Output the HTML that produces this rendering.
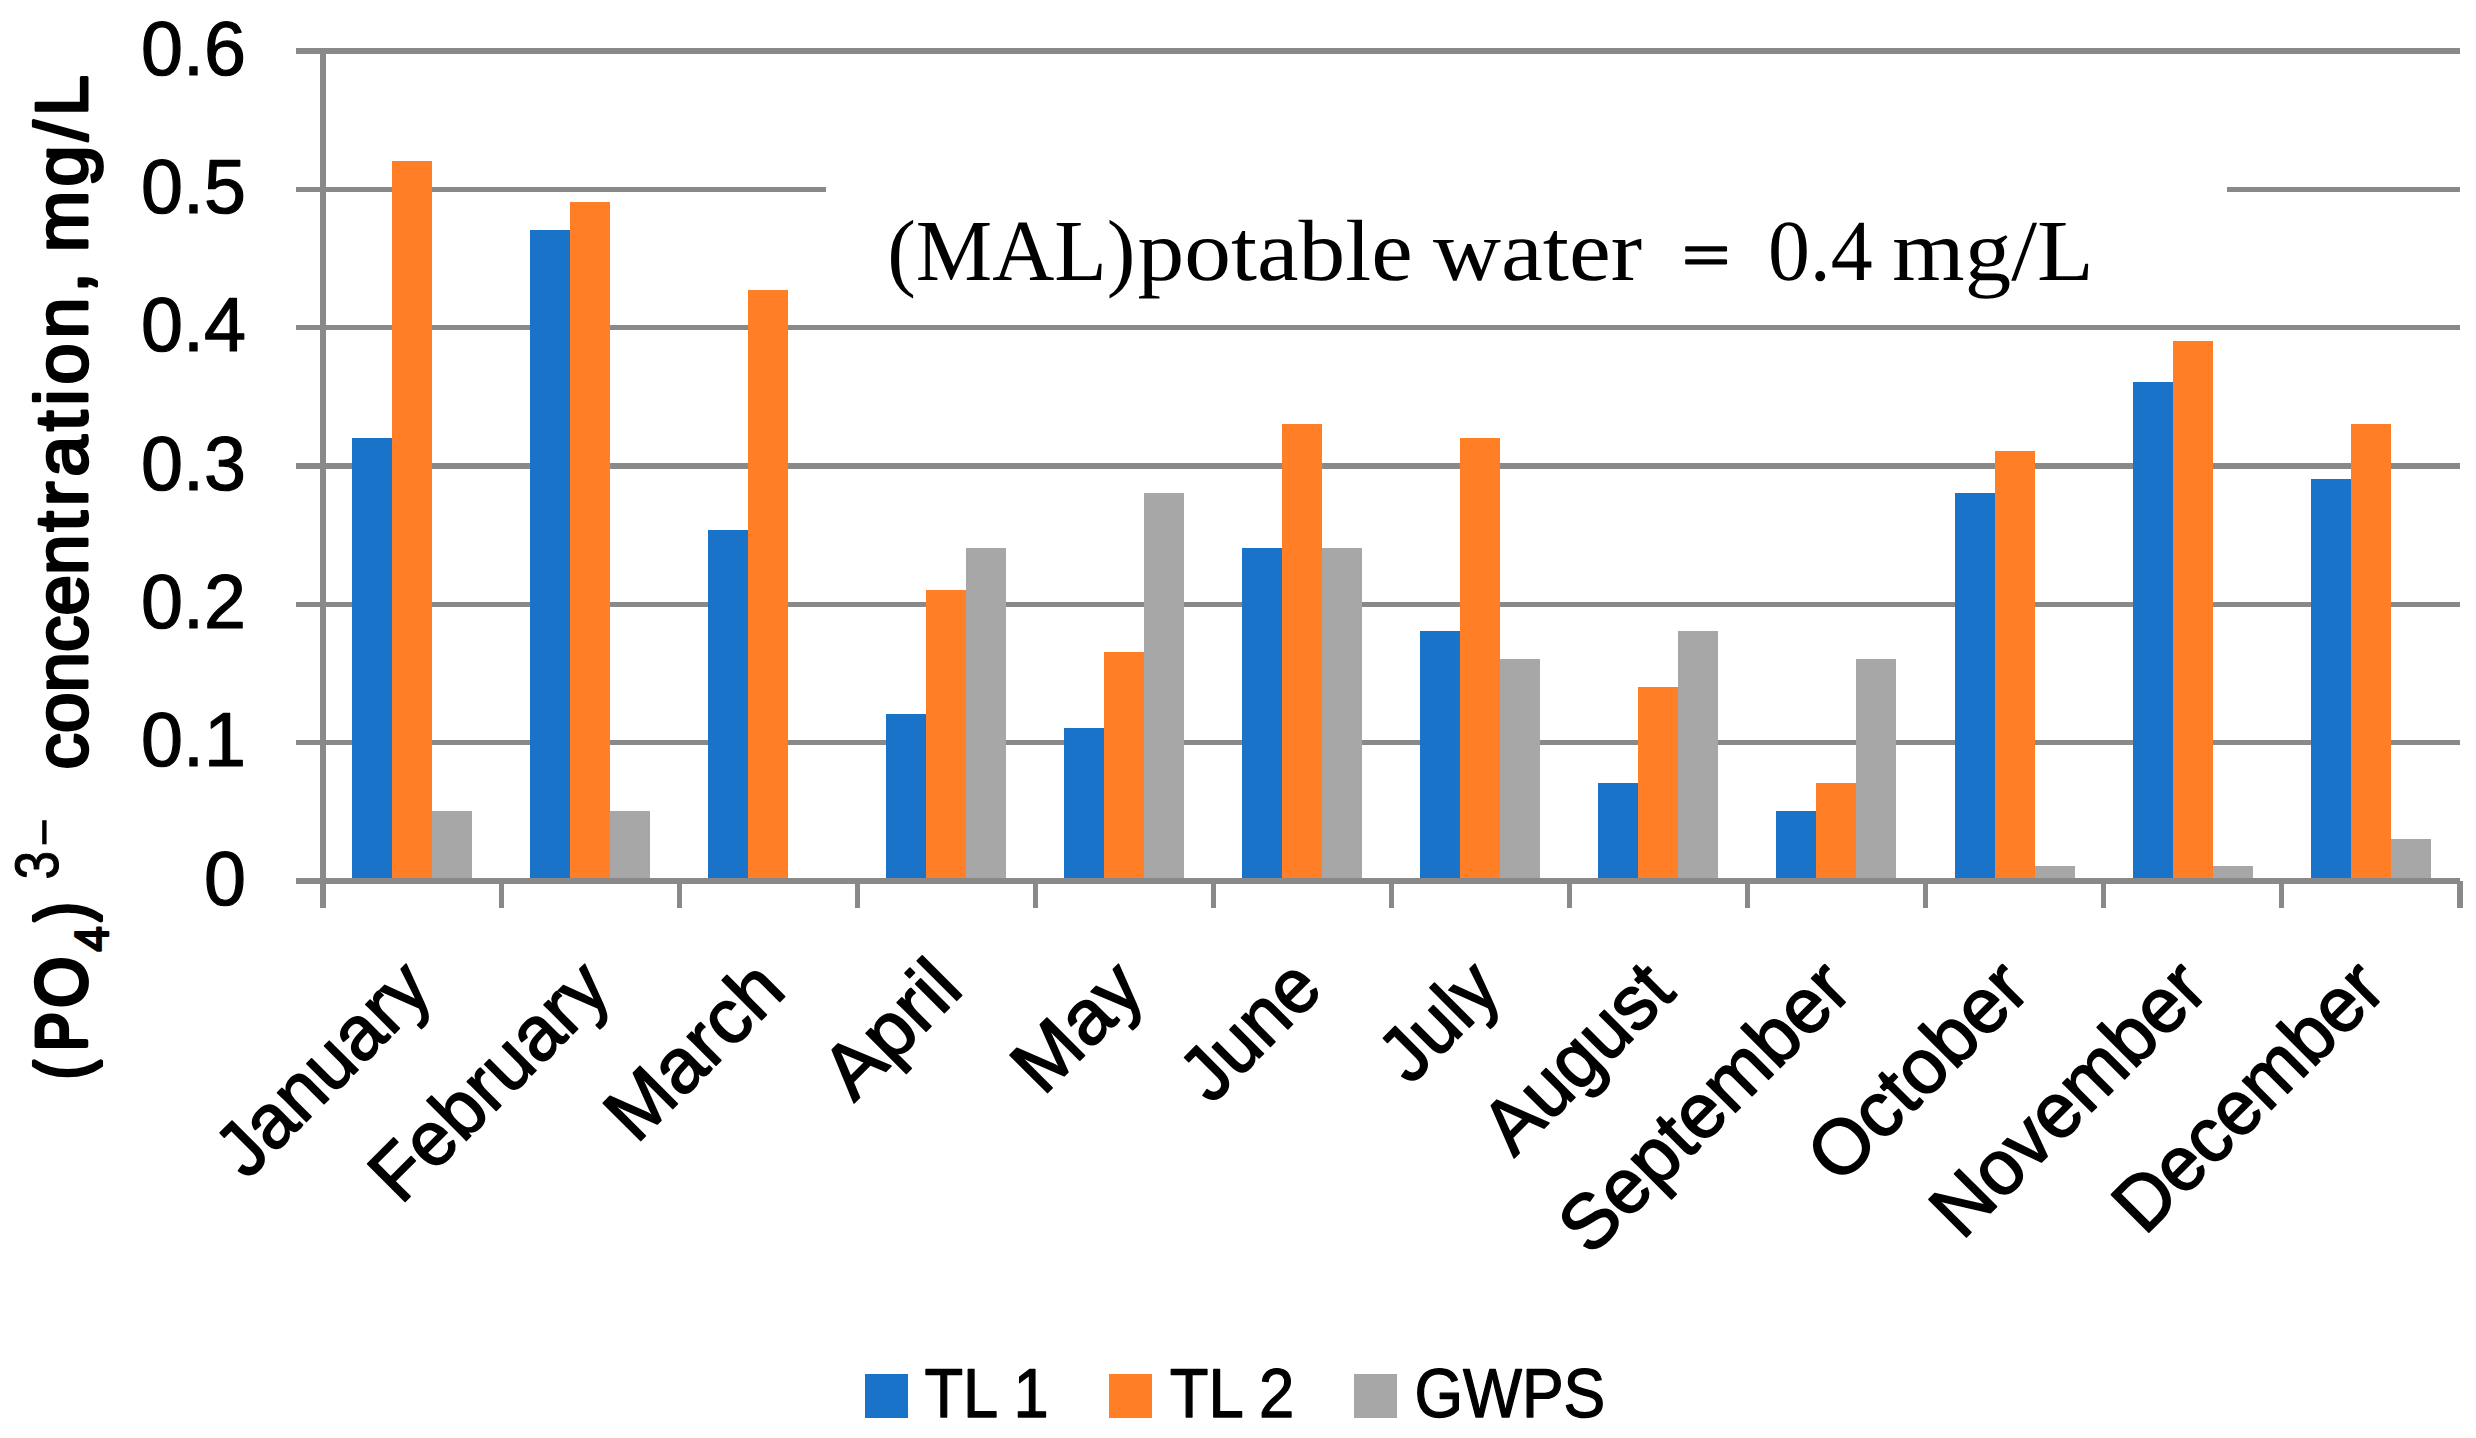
<!DOCTYPE html>
<html lang="en"><head><meta charset="utf-8"><title>Phosphate concentration chart</title>
<style>html,body{margin:0;padding:0;background:#fff;}body{width:2476px;height:1438px;overflow:hidden;}svg{display:block;}text{fill:#000;}.s{stroke:#000;stroke-linejoin:round;}</style>
</head><body>
<svg width="2476" height="1438" viewBox="0 0 2476 1438" shape-rendering="crispEdges">
<rect x="0" y="0" width="2476" height="1438" fill="#ffffff"/>
<g id="grid" fill="#898989">
<rect x="296" y="48" width="2164" height="6"/>
<rect x="296" y="187" width="2164" height="5"/>
<rect x="296" y="325" width="2164" height="5"/>
<rect x="296" y="463" width="2164" height="6"/>
<rect x="296" y="602" width="2164" height="5"/>
<rect x="296" y="740" width="2164" height="5"/>
</g>
<g id="bars">
<rect x="352" y="438" width="40" height="440" fill="#1873C9"/>
<rect x="392" y="161" width="40" height="717" fill="#FF7E26"/>
<rect x="432" y="811" width="40" height="67" fill="#A7A7A7"/>
<rect x="530" y="230" width="40" height="648" fill="#1873C9"/>
<rect x="570" y="202" width="40" height="676" fill="#FF7E26"/>
<rect x="610" y="811" width="40" height="67" fill="#A7A7A7"/>
<rect x="708" y="530" width="40" height="348" fill="#1873C9"/>
<rect x="748" y="290" width="40" height="588" fill="#FF7E26"/>
<rect x="886" y="714" width="40" height="164" fill="#1873C9"/>
<rect x="926" y="590" width="40" height="288" fill="#FF7E26"/>
<rect x="966" y="548" width="40" height="330" fill="#A7A7A7"/>
<rect x="1064" y="728" width="40" height="150" fill="#1873C9"/>
<rect x="1104" y="652" width="40" height="226" fill="#FF7E26"/>
<rect x="1144" y="493" width="40" height="385" fill="#A7A7A7"/>
<rect x="1242" y="548" width="40" height="330" fill="#1873C9"/>
<rect x="1282" y="424" width="40" height="454" fill="#FF7E26"/>
<rect x="1322" y="548" width="40" height="330" fill="#A7A7A7"/>
<rect x="1420" y="631" width="40" height="247" fill="#1873C9"/>
<rect x="1460" y="438" width="40" height="440" fill="#FF7E26"/>
<rect x="1500" y="659" width="40" height="219" fill="#A7A7A7"/>
<rect x="1598" y="783" width="40" height="95" fill="#1873C9"/>
<rect x="1638" y="687" width="40" height="191" fill="#FF7E26"/>
<rect x="1678" y="631" width="40" height="247" fill="#A7A7A7"/>
<rect x="1776" y="811" width="40" height="67" fill="#1873C9"/>
<rect x="1816" y="783" width="40" height="95" fill="#FF7E26"/>
<rect x="1856" y="659" width="40" height="219" fill="#A7A7A7"/>
<rect x="1955" y="493" width="40" height="385" fill="#1873C9"/>
<rect x="1995" y="451" width="40" height="427" fill="#FF7E26"/>
<rect x="2035" y="866" width="40" height="12" fill="#A7A7A7"/>
<rect x="2133" y="382" width="40" height="496" fill="#1873C9"/>
<rect x="2173" y="341" width="40" height="537" fill="#FF7E26"/>
<rect x="2213" y="866" width="40" height="12" fill="#A7A7A7"/>
<rect x="2311" y="479" width="40" height="399" fill="#1873C9"/>
<rect x="2351" y="424" width="40" height="454" fill="#FF7E26"/>
<rect x="2391" y="839" width="40" height="39" fill="#A7A7A7"/>
</g>
<rect x="826" y="176" width="1401" height="125" fill="#ffffff"/>
<clipPath id="annclip"><rect x="826" y="176" width="1401" height="125"/></clipPath>
<g clip-path="url(#annclip)" shape-rendering="auto" text-rendering="geometricPrecision">
<text id="ann" font-family='"Liberation Serif", serif' font-size="87.00" x="886" y="280.00"><tspan id="ann0" x="887.14" y="280.00" textLength="248.36" lengthAdjust="spacingAndGlyphs">(MAL)</tspan><tspan id="ann1" x="1137.63" y="280.00" textLength="275.18" lengthAdjust="spacingAndGlyphs">potable</tspan> <tspan id="ann2" x="1433.00" y="280.00" textLength="209.10" lengthAdjust="spacingAndGlyphs">water</tspan> <tspan id="ann3" x="1682.20" y="276.50" textLength="47.66" lengthAdjust="spacingAndGlyphs" font-size="65.00" class="s" stroke-width="2.00">=</tspan> <tspan id="ann4" x="1767.91" y="280.00" textLength="104.78" lengthAdjust="spacingAndGlyphs">0.4</tspan> <tspan id="ann5" x="1892.36" y="280.00" textLength="201.40" lengthAdjust="spacingAndGlyphs">mg/L</tspan></text>
</g>
<g id="axes" fill="#898989">
<rect x="296" y="878" width="2164" height="6"/>
<rect x="320" y="48" width="6" height="860"/>
<rect x="499" y="881" width="5" height="27"/>
<rect x="677" y="881" width="5" height="27"/>
<rect x="855" y="881" width="5" height="27"/>
<rect x="1033" y="881" width="5" height="27"/>
<rect x="1211" y="881" width="5" height="27"/>
<rect x="1389" y="881" width="5" height="27"/>
<rect x="1567" y="881" width="5" height="27"/>
<rect x="1745" y="881" width="5" height="27"/>
<rect x="1923" y="881" width="5" height="27"/>
<rect x="2101" y="881" width="5" height="27"/>
<rect x="2279" y="881" width="5" height="27"/>
<rect x="2457" y="881" width="6" height="27"/>
</g>
<g shape-rendering="auto" text-rendering="geometricPrecision">
<text id="yl0" class="s" text-anchor="end" transform="translate(245.90,74.70) scale(0.9850,1)" font-family='"Liberation Sans", sans-serif' font-size="76.60" stroke-width="1.20">0.6</text>
<text id="yl1" class="s" text-anchor="end" transform="translate(245.90,213.20) scale(0.9850,1)" font-family='"Liberation Sans", sans-serif' font-size="76.60" stroke-width="1.20">0.5</text>
<text id="yl2" class="s" text-anchor="end" transform="translate(245.90,351.20) scale(0.9850,1)" font-family='"Liberation Sans", sans-serif' font-size="76.60" stroke-width="1.20">0.4</text>
<text id="yl3" class="s" text-anchor="end" transform="translate(245.90,489.70) scale(0.9850,1)" font-family='"Liberation Sans", sans-serif' font-size="76.60" stroke-width="1.20">0.3</text>
<text id="yl4" class="s" text-anchor="end" transform="translate(245.90,628.20) scale(0.9850,1)" font-family='"Liberation Sans", sans-serif' font-size="76.60" stroke-width="1.20">0.2</text>
<text id="yl5" class="s" text-anchor="end" transform="translate(245.90,766.20) scale(0.9850,1)" font-family='"Liberation Sans", sans-serif' font-size="76.60" stroke-width="1.20">0.1</text>
<text id="yl6" class="s" text-anchor="end" transform="translate(245.90,904.70) scale(0.9850,1)" font-family='"Liberation Sans", sans-serif' font-size="76.60" stroke-width="1.20">0</text>
<text id="mon0" class="s" text-anchor="end" transform="translate(435.04,992.80) rotate(-45) scale(0.9711,1)" font-family='"Liberation Sans", sans-serif' font-size="77.00" stroke-width="1.70">January</text>
<text id="mon1" class="s" text-anchor="end" transform="translate(613.52,993.00) rotate(-45) scale(0.9763,1)" font-family='"Liberation Sans", sans-serif' font-size="77.00" stroke-width="1.70">February</text>
<text id="mon2" class="s" text-anchor="end" transform="translate(788.20,993.00) rotate(-45) scale(1.0052,1)" font-family='"Liberation Sans", sans-serif' font-size="77.00" stroke-width="1.70">March</text>
<text id="mon3" class="s" text-anchor="end" transform="translate(965.48,991.60) rotate(-45) scale(1.0225,1)" font-family='"Liberation Sans", sans-serif' font-size="77.00" stroke-width="1.70">April</text>
<text id="mon4" class="s" text-anchor="end" transform="translate(1147.36,992.80) rotate(-45) scale(1.0142,1)" font-family='"Liberation Sans", sans-serif' font-size="77.00" stroke-width="1.70">May</text>
<text id="mon5" class="s" text-anchor="end" transform="translate(1325.24,991.60) rotate(-45) scale(0.9640,1)" font-family='"Liberation Sans", sans-serif' font-size="77.00" stroke-width="1.70">June</text>
<text id="mon6" class="s" text-anchor="end" transform="translate(1503.72,992.80) rotate(-45) scale(0.9660,1)" font-family='"Liberation Sans", sans-serif' font-size="77.00" stroke-width="1.70">July</text>
<text id="mon7" class="s" text-anchor="end" transform="translate(1677.60,994.60) rotate(-45) scale(0.9644,1)" font-family='"Liberation Sans", sans-serif' font-size="77.00" stroke-width="1.70">August</text>
<text id="mon8" class="s" text-anchor="end" transform="translate(1854.88,992.80) rotate(-45) scale(0.9930,1)" font-family='"Liberation Sans", sans-serif' font-size="77.00" stroke-width="1.70">September</text>
<text id="mon9" class="s" text-anchor="end" transform="translate(2032.56,992.60) rotate(-45) scale(0.9987,1)" font-family='"Liberation Sans", sans-serif' font-size="77.00" stroke-width="1.70">October</text>
<text id="mon10" class="s" text-anchor="end" transform="translate(2210.84,992.60) rotate(-45) scale(0.9903,1)" font-family='"Liberation Sans", sans-serif' font-size="77.00" stroke-width="1.70">November</text>
<text id="mon11" class="s" text-anchor="end" transform="translate(2388.32,992.60) rotate(-45) scale(0.9711,1)" font-family='"Liberation Sans", sans-serif' font-size="77.00" stroke-width="1.70">December</text>
<text id="ytitle" transform="translate(87.00,1080.00) rotate(-90)" font-family='"Liberation Sans", sans-serif' font-size="74"><tspan id="t1a" x="1.11" y="-0.75" font-size="71.50" textLength="18.27" lengthAdjust="spacingAndGlyphs" class="s" stroke-width="4.50">(</tspan><tspan id="t1b" x="28.95" y="-0.75" font-size="71.50" textLength="38.80" lengthAdjust="spacingAndGlyphs" class="s" stroke-width="4.50">P</tspan><tspan id="t1c" x="72.52" y="-0.75" font-size="71.50" textLength="50.63" lengthAdjust="spacingAndGlyphs" class="s" stroke-width="4.50">O</tspan><tspan id="t2" x="128.50" y="20.80" font-size="47.50" textLength="25.10" lengthAdjust="spacingAndGlyphs" class="s" stroke-width="2.50">4</tspan><tspan id="t3" x="159.10" y="-0.75" font-size="71.50" textLength="18.32" lengthAdjust="spacingAndGlyphs" class="s" stroke-width="4.50">)</tspan><tspan id="t4" x="200.45" y="-29.50" font-size="61.50" textLength="28.63" lengthAdjust="spacingAndGlyphs" class="s" stroke-width="1.00">3</tspan><tspan id="t5" x="233.20" y="-22.30" font-size="62.00" textLength="28.97" lengthAdjust="spacingAndGlyphs">−</tspan> <tspan id="t6a" x="310.52" y="0.00" font-size="74.00" textLength="235.07" lengthAdjust="spacingAndGlyphs" class="s" stroke-width="3.00">concen</tspan><tspan id="t6b" x="548.50" y="0.00" font-size="74.00" textLength="259.42" lengthAdjust="spacing" class="s" stroke-width="3.00">tration,</tspan> <tspan id="t7" x="827.71" y="0.00" font-size="74.00" textLength="177.25" lengthAdjust="spacing" class="s" stroke-width="3.00">mg/L</tspan></text>
<rect x="865" y="1374" width="43" height="44" fill="#1873C9" shape-rendering="crispEdges"/>
<text id="lg0" class="s" transform="translate(924.50,1417.40) scale(0.9120,1)" font-family='"Liberation Sans", sans-serif' font-size="69.30" stroke-width="1.30">TL 1</text>
<rect x="1109" y="1374" width="43" height="44" fill="#FF7E26" shape-rendering="crispEdges"/>
<text id="lg1" class="s" transform="translate(1169.80,1417.40) scale(0.9150,1)" font-family='"Liberation Sans", sans-serif' font-size="69.30" stroke-width="1.30">TL 2</text>
<rect x="1354" y="1374" width="43" height="44" fill="#A7A7A7" shape-rendering="crispEdges"/>
<text id="lg2" class="s" transform="translate(1414.40,1417.40) scale(0.9010,1)" font-family='"Liberation Sans", sans-serif' font-size="69.30" stroke-width="1.30">GWPS</text>
</g>
</svg>
</body></html>
